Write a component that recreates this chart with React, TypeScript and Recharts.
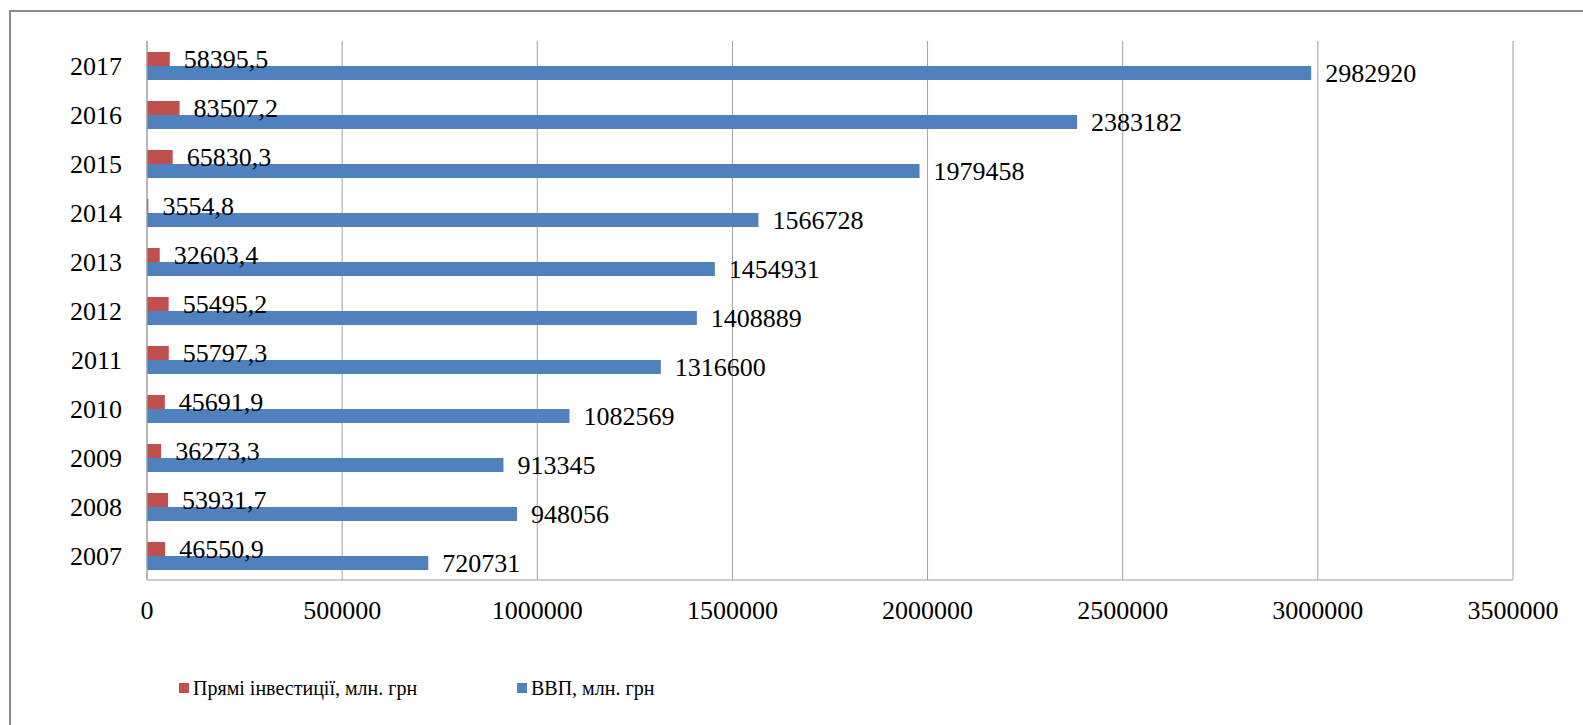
import React from 'react';
import { BarChart, Bar, XAxis, YAxis, CartesianGrid, Legend, LabelList } from 'recharts';

const years = ['2007', '2008', '2009', '2010', '2011', '2012', '2013', '2014', '2015', '2016', '2017'];
const investments = [46550.9, 53931.7, 36273.3, 45691.9, 55797.3, 55495.2, 32603.4, 3554.8, 65830.3, 83507.2, 58395.5];
const gdp = [720731, 948056, 913345, 1082569, 1316600, 1408889, 1454931, 1566728, 1979458, 2383182, 2982920];
const xTicks = [0, 500000, 1000000, 1500000, 2000000, 2500000, 3000000, 3500000];

const INV_NAME = 'Прямі інвестиції, млн. грн';
const GDP_NAME = 'ВВП, млн. грн';

const data = years.map((year, i) => ({ year, inv: investments[i], gdp: gdp[i] }));

const FONT = '"Liberation Serif", "Times New Roman", serif';

const fmtComma = (v: any) => String(v).replace('.', ',');

// legend drawn as svg so it uses the same serif face as the axis text
const CustomLegend = () => {
  const items = [
    { name: INV_NAME, color: '#C0504D', left: 0 },
    { name: GDP_NAME, color: '#4F81BD', left: 338 },
  ];
  return (
    <svg width={800} height={30}>
      {items.map((it) => (
        <g key={it.name}>
          <rect x={it.left} y={10} width={10} height={10} fill={it.color} />
          <text
            x={it.left + 14}
            y={22}
            fontFamily={FONT}
            fontSize={20}
            fill="#000"
            transform={`translate(0 0)`}
          >
            {it.name}
          </text>
        </g>
      ))}
    </svg>
  );
};

export default function App() {
  return (
    <div
      style={{
        position: 'absolute',
        left: 9,
        top: 10,
        width: 1572,
        height: 713,
        borderTop: '2px solid #8a8a8a',
        borderLeft: '2px solid #8a8a8a',
        background: '#fff',
      }}
    >
      <BarChart
        width={1572}
        height={713}
        data={data}
        layout="vertical"
        margin={{ top: 29, right: 70, left: 0, bottom: 55 }}
        barGap={0}
      >
        <CartesianGrid horizontal={false} stroke="#a0a0a0" />
        <XAxis
          type="number"
          domain={[0, 3500000]}
          ticks={xTicks}
          interval={0}
          tickSize={0}
          tickMargin={21}
          height={60}
          axisLine={{ stroke: '#a0a0a0' }}
          tick={{ fill: '#000', fontSize: 26, fontFamily: FONT }}
        />
        <YAxis
          type="category"
          dataKey="year"
          reversed
          width={136}
          tickSize={0}
          tickMargin={25}
          interval={0}
          axisLine={{ stroke: '#a0a0a0' }}
          tick={{ fill: '#000', fontSize: 26, fontFamily: FONT }}
        />
        <Legend
          verticalAlign="bottom"
          wrapperStyle={{ left: 168, top: 661, width: 800, height: 30 }}
          content={<CustomLegend />}
        />
        <Bar dataKey="inv" name={INV_NAME} fill="#C0504D" barSize={14} isAnimationActive={false}>
          <LabelList
            dataKey="inv"
            position="right"
            offset={14}
            formatter={fmtComma}
            style={{ fill: '#000', fontSize: 26, fontFamily: FONT }}
          />
        </Bar>
        <Bar dataKey="gdp" name={GDP_NAME} fill="#4F81BD" barSize={14} isAnimationActive={false}>
          <LabelList
            dataKey="gdp"
            position="right"
            offset={14}
            style={{ fill: '#000', fontSize: 26, fontFamily: FONT }}
          />
        </Bar>
      </BarChart>
    </div>
  );
}
